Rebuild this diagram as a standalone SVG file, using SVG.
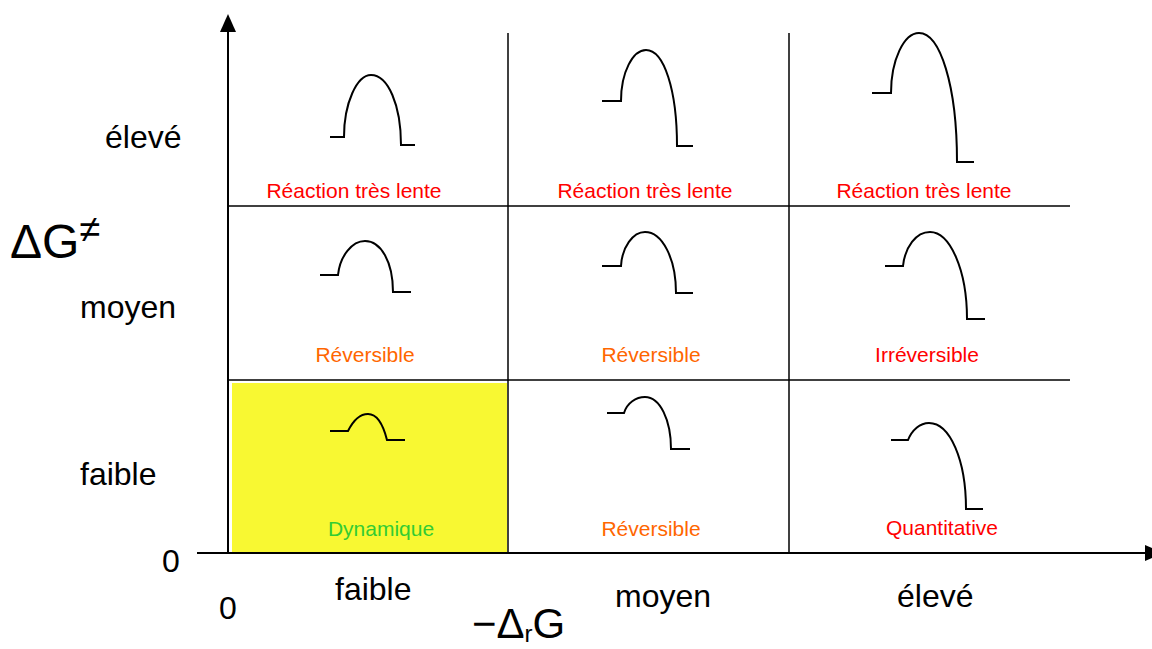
<svg xmlns="http://www.w3.org/2000/svg" width="1152" height="649" viewBox="0 0 1152 649">
<style>
.ax{stroke:#000;stroke-width:2;fill:none}
.gr{stroke:#000;stroke-width:1.5;fill:none}
.cv{stroke:#000;stroke-width:2;fill:none}
.lb{font-family:"Liberation Sans",Arial,sans-serif;font-size:32px;fill:#000}
.big{font-family:"Liberation Sans",Arial,sans-serif;fill:#000}
.sm{font-family:"Liberation Sans",Arial,sans-serif;font-size:21px;text-anchor:middle}
.red{fill:#FF0000}
.org{fill:#FF6600}
.grn{fill:#33CC33}
</style>
<rect x="232" y="383" width="275" height="169" fill="#F8F832"/>
<g id="connectors">
<line class="ax" x1="228" y1="553" x2="228" y2="30"/>
<path d="M228,14 L220,32 L236,32 Z" fill="#000"/>
<line class="ax" x1="197" y1="553" x2="1146" y2="553"/>
<path d="M1163,553 L1145,545 L1145,561 Z" fill="#000"/>
<line class="gr" x1="508" y1="33" x2="508" y2="553"/>
<line class="gr" x1="789" y1="33" x2="789" y2="553"/>
<line class="gr" x1="228" y1="206" x2="1070" y2="206"/>
<line class="gr" x1="228" y1="380" x2="1070" y2="380"/>
</g>
<g id="axis-labels">
<text class="big" x="10" y="258" font-size="48">ΔG<tspan font-size="38" dy="-16">≠</tspan></text>
<text class="big" x="472" y="638" font-size="42">−Δ<tspan font-size="24" dy="4">r</tspan><tspan dy="-4">G</tspan></text>
<text class="lb" x="105" y="148">élevé</text>
<text class="lb" x="80" y="318">moyen</text>
<text class="lb" x="80" y="485">faible</text>
<text class="lb" x="162" y="572">0</text>
<text class="lb" x="219" y="619">0</text>
<text class="lb" x="335" y="600">faible</text>
<text class="lb" x="615" y="607">moyen</text>
<text class="lb" x="897" y="607">élevé</text>
</g>
<g id="cell-hi-lo">
<path class="cv" d="M330,137 H344 C344,103 357,75 371,75 C388,75 401,105 401,145 H415"/>
<text class="sm red" x="354" y="198">Réaction très lente</text>
</g>
<g id="cell-hi-mid">
<path class="cv" d="M602,101 H621 C621,72 633,50 646,50 C664,50 677,90 677,146 H693"/>
<text class="sm red" x="645" y="198">Réaction très lente</text>
</g>
<g id="cell-hi-hi">
<path class="cv" d="M872,93 H891 C891,60 904,33 919,33 C940,33 957,85 957,162 H974"/>
<text class="sm red" x="924" y="198">Réaction très lente</text>
</g>
<g id="cell-mid-lo">
<path class="cv" d="M320,275 H338 C340,256 352,241 365,241 C381,241 393,262 393,292 H411"/>
<text class="sm org" x="365" y="362">Réversible</text>
</g>
<g id="cell-mid-mid">
<path class="cv" d="M602,266 H621 C622,247 633,232 645,232 C662,232 676,258 676,293 H693"/>
<text class="sm org" x="651" y="362">Réversible</text>
</g>
<g id="cell-mid-hi">
<path class="cv" d="M885,266 H903 C905,247 916,232 930,232 C950,232 967,270 967,319 H985"/>
<text class="sm red" x="927" y="362">Irréversible</text>
</g>
<g id="cell-lo-lo">
<path class="cv" d="M330,431 H348 C353,421 360,414 368,414 C378,414 384,428 387,440 H405"/>
<text class="sm grn" x="381" y="536">Dynamique</text>
</g>
<g id="cell-lo-mid">
<path class="cv" d="M607,413 H624 C627,403 636,397 645,397 C660,397 671,420 671,449 H690"/>
<text class="sm org" x="651" y="536">Réversible</text>
</g>
<g id="cell-lo-hi">
<path class="cv" d="M891,440 H908 C912,430 920,423 929,423 C950,423 966,460 966,509 H983"/>
<text class="sm red" x="942" y="535">Quantitative</text>
</g>
</svg>
